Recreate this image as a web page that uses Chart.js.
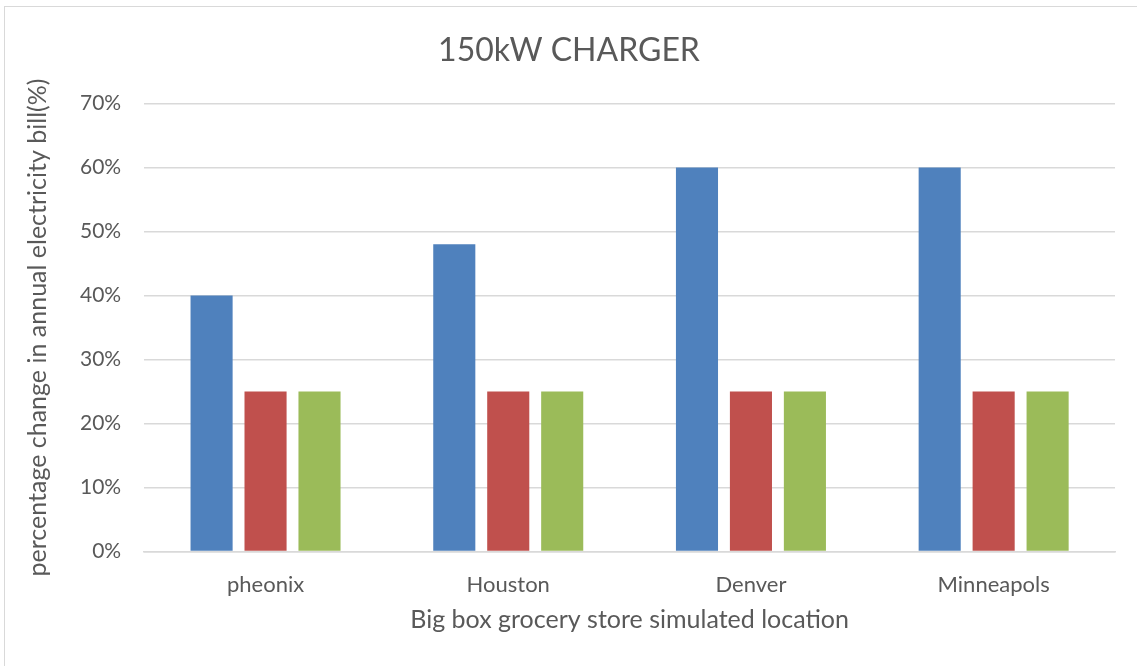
<!DOCTYPE html>
<html>
<head>
<meta charset="utf-8">
<script src="https://cdn.jsdelivr.net/npm/chart.js@4"></script>
<style>
  html, body { margin: 0; padding: 0; background: #fff; }
  #frame { position: absolute; left: 4px; top: 6px; width: 1140px; height: 670px; border: 1px solid #d9d9d9; box-sizing: border-box; }
  #wrap { position: absolute; left: 0; top: 0; width: 1137px; height: 666px; }
</style>
</head>
<body>
<div id="frame"></div>
<div id="wrap"><canvas id="myChart" width="1137" height="666"></canvas></div>
<script>
// datos
const ciudades = ['pheonix', 'Houston', 'Denver', 'Minneapols'];
const serie1 = [40, 48, 60, 60];
const serie2 = [25, 25, 25, 25];
const serie3 = [25, 25, 25, 25];
const ticksY = [0, 10, 20, 30, 40, 50, 60, 70];

const gris = '#595959';
const fuente = 'Lato, "Open Sans", sans-serif';

function dibujarGrafico() {
    const ctx = document.getElementById('myChart').getContext('2d');
    const chart = new Chart(ctx, {
        type: 'bar',
        data: {
            labels: ciudades,
            datasets: [{
                label: 'Series1',
                data: serie1,
                backgroundColor: '#4f81bd'
            }, {
                label: 'Series2',
                data: serie2,
                backgroundColor: '#c0504d'
            }, {
                label: 'Series3',
                data: serie3,
                backgroundColor: '#9bbb59'
            }]
        },
        options: {
            responsive: false,
            animation: false,
            categoryPercentage: 0.667,
            barPercentage: 0.78,
            layout: { padding: { left: 23, right: 22, top: 0, bottom: 31 } },
            plugins: {
                legend: { display: false },
                tooltip: { enabled: false },
                title: {
                    display: true,
                    text: '150kW CHARGER',
                    color: gris,
                    font: { family: fuente, size: 32, weight: 'normal' },
                    padding: { top: 31, bottom: 34 }
                }
            },
            scales: {
                x: {
                    grid: { display: false, drawTicks: false },
                    border: { color: '#d9d9d9', width: 1.5 },
                    ticks: { color: gris, font: { family: fuente, size: 22 }, padding: 20 },
                    title: {
                        display: true,
                        text: 'Big box grocery store simulated location',
                        color: gris,
                        font: { family: fuente, size: 25 },
                        padding: { top: -13, bottom: 0 }
                    }
                },
                y: {
                    min: 0,
                    max: 70,
                    afterBuildTicks: function (axis) {
                        axis.ticks = ticksY.map(v => ({ value: v }));
                    },
                    grid: { color: '#d9d9d9', lineWidth: 1.5, drawTicks: false },
                    border: { display: false },
                    ticks: {
                        color: gris,
                        font: { family: fuente, size: 21 },
                        padding: 23,
                        callback: v => v + '%'
                    },
                    title: {
                        display: true,
                        text: 'percentage change in annual electricity bill(%)',
                        color: gris,
                        font: { family: fuente, size: 25 },
                        padding: { top: 0, bottom: 4 }
                    }
                }
            }
        }
    });
}

dibujarGrafico();
</script>
</body>
</html>
